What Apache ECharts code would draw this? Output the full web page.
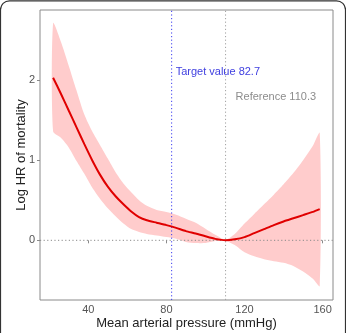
<!DOCTYPE html>
<html><head><meta charset="utf-8">
<script src="https://cdn.jsdelivr.net/npm/echarts@6/dist/echarts.min.js"></script>
<style>html,body{margin:0;padding:0;background:#fff}#c{width:346px;height:333px}</style>
</head><body><div id="c"></div>
<script>
var pressure = [22, 26, 30, 34, 38, 42, 46, 50, 54, 58, 62, 66, 70, 75, 80, 85, 90, 95, 100, 105, 110.3, 115, 120, 125, 130, 135, 140, 145, 150, 155, 158.5];
var logHR    = [2.03, 1.83, 1.62, 1.41, 1.20, 1.00, 0.82, 0.67, 0.55, 0.45, 0.36, 0.29, 0.25, 0.22, 0.19, 0.155, 0.115, 0.085, 0.05, 0.018, 0, 0.012, 0.04, 0.09, 0.14, 0.19, 0.235, 0.275, 0.315, 0.355, 0.39];
var upperCI  = [2.71, 2.48, 2.18, 1.87, 1.57, 1.36, 1.19, 1.02, 0.85, 0.71, 0.60, 0.50, 0.43, 0.38, 0.355, 0.32, 0.27, 0.22, 0.145, 0.07, 0.01, 0.08, 0.21, 0.33, 0.45, 0.57, 0.70, 0.84, 1.0, 1.18, 1.34];
var lowerCI  = [1.36, 1.28, 1.16, 0.99, 0.83, 0.66, 0.52, 0.40, 0.30, 0.21, 0.14, 0.105, 0.08, 0.06, 0.04, 0.02, -0.02, -0.035, -0.035, -0.01, -0.005, -0.06, -0.15, -0.2, -0.235, -0.26, -0.28, -0.32, -0.39, -0.48, -0.57];
var xTicks = [40, 80, 120, 160];
var yTicks = [0, 1, 2];
var targetValue = 82.7;
var referenceValue = 110.3;
var yMin = -0.745, yMax = 2.875;

var FONT = 'Liberation Sans, Arial, sans-serif';
var fitData = pressure.map(function (x, i) { return [x, logHR[i]]; });
var bandData = pressure.map(function (x, i) { return [x, lowerCI[i], upperCI[i]]; });

function renderBand(params, api) {
  if (params.dataIndex !== 0) return null;
  var pts = [];
  for (var i = 0; i < pressure.length; i++) pts.push(api.coord([pressure[i], upperCI[i]]));
  for (var j = pressure.length - 1; j >= 0; j--) pts.push(api.coord([pressure[j], lowerCI[j]]));
  return { type: 'polygon', shape: { points: pts, smooth: 0.25 }, style: { fill: '#ffcccc', stroke: 'none' }, silent: true };
}

function refLine(data, color) {
  return { type: 'line', data: data, symbol: 'none', silent: true, z: 2,
    lineStyle: { color: color, type: [1.2, 2.4], width: 1 } };
}

var chart = echarts.init(document.getElementById('c'), null, { renderer: 'canvas' });
chart.setOption({
  animation: false,
  backgroundColor: '#fff',
  grid: { left: 40, right: 13, top: 10, bottom: 33, outerBoundsMode: 'none', containLabel: false, show: true, borderColor: '#8a8a8a', borderWidth: 1, backgroundColor: 'transparent' },
  xAxis: {
    type: 'value', min: 15.3, max: 165.3,
    name: 'Mean arterial pressure (mmHg)', nameLocation: 'middle', nameGap: 17, nameMoveOverlap: false,
    nameTextStyle: { fontFamily: FONT, fontSize: 13, color: '#222' },
    axisLine: { show: false },
    axisTick: { show: true, length: 3, lineStyle: { color: '#8a8a8a' }, customValues: xTicks },
    axisLabel: { fontFamily: FONT, fontSize: 11, color: '#555', margin: 4, customValues: xTicks },
    splitLine: { show: false }
  },
  yAxis: {
    type: 'value', min: yMin, max: yMax,
    name: 'Log HR of mortality', nameLocation: 'middle', nameGap: 12, nameRotate: 90, nameMoveOverlap: false,
    nameTextStyle: { fontFamily: FONT, fontSize: 13, color: '#222' },
    axisLine: { show: false },
    axisTick: { show: true, length: 3, lineStyle: { color: '#8a8a8a' }, customValues: yTicks },
    axisLabel: { fontFamily: FONT, fontSize: 11, color: '#555', margin: 5, customValues: yTicks },
    splitLine: { show: false }
  },
  series: [
    { type: 'custom', data: bandData, renderItem: renderBand, clip: true, silent: true, z: 1 },
    refLine([[15.3, 0], [165.3, 0]], '#8a8a8a'),
    refLine([[targetValue, yMin], [targetValue, yMax]], '#3c3cf0'),
    refLine([[referenceValue, yMin], [referenceValue, yMax]], '#a0a0a0'),
    { type: 'line', data: fitData, symbol: 'none', smooth: 0.2,
      lineStyle: { color: '#e00000', width: 2 }, z: 5,
      markPoint: {
        silent: true, symbol: 'circle', symbolSize: 0,
        data: [
          { coord: [targetValue, 2.1], label: { show: true, formatter: 'Target value ' + targetValue, position: 'right', distance: 4, color: '#4040e0', fontFamily: FONT, fontSize: 11 } },
          { coord: [referenceValue, 1.79], label: { show: true, formatter: 'Reference ' + referenceValue, position: 'right', distance: 10, color: '#8c8c8c', fontFamily: FONT, fontSize: 11 } }
        ]
      }
    }
  ],
  graphic: [
    { type: 'rect', shape: { x: 0.5, y: 0.8, width: 345, height: 345, r: 9 }, style: { fill: 'none', stroke: '#333', lineWidth: 1.2 }, silent: true, z: 100 }
  ]
});
</script>
</body></html>
